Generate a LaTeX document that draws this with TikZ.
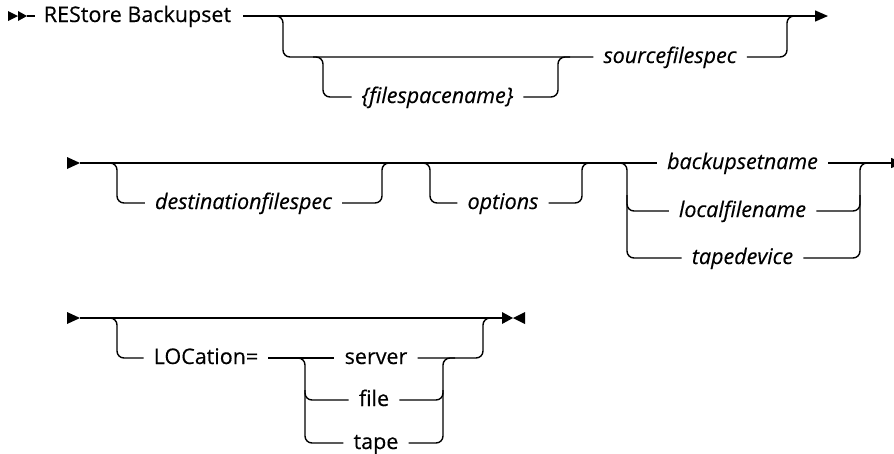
\documentclass[tikz,border=0pt]{standalone}
\usepackage{fontspec}
\setmainfont{Open Sans}[FakeBold=0.35]
\usetikzlibrary{arrows.meta}
\begin{document}
\begin{tikzpicture}[x=1pt,y=-1pt,
  rail/.style={line width=1.4pt, rounded corners=7pt},
  kw/.style={inner xsep=0pt, inner ysep=0pt, text height=15pt, text depth=3pt, font=\fontsize{21.5}{26}\selectfont},
  var/.style={kw, font=\fontsize{21.5}{26}\selectfont\itshape},
  tipmark/.style={fill=black}]
\useasboundingbox (0,0) rectangle (894,453);

% ---------- row 1 ----------
\fill[tipmark] (8,11) -- (18,16) -- (8,21) -- cycle;
\fill[tipmark] (18,11) -- (27,16) -- (18,21) -- cycle;
\coordinate (s1) at (27,16);
\node[kw] (cmd) at (137.5,16) {REStore Backupset};
\draw[line width=1.4pt] (s1) -- ([xshift=-9pt]cmd.west);
\coordinate (a1) at (243,16);
\coordinate (e1) at (828,16);
\draw[rail, -{Triangle[length=13pt,width=11pt]}] (a1) -- (e1);

\node[var] (src) at (670,57) {sourcefilespec};
\node[var] (fsn) at (437.5,97) {\{filespacename\}};
\draw[rail] (268,16) -- (283,16) -- (283,57) -- ([xshift=-10pt]src.west);
\draw[rail] ([xshift=10pt]src.east) -- (787,57) -- (787,16) -- (800,16);
\draw[rail] (313,57) -- (323,57) -- (323,97) -- ([xshift=-10pt]fsn.west);
\draw[rail] ([xshift=10pt]fsn.east) -- (558,97) -- (558,57) -- (570,57);

% ---------- row 2 ----------
\fill[tipmark] (67,157) -- (80,163) -- (67,169) -- cycle;
\coordinate (s2) at (80,163);
\node[var] (bsn) at (742.5,163) {backupsetname};
\node[var] (lfn) at (742.5,211) {localfilename};
\node[var] (tdv) at (742.5,258) {tapedevice};
\node[var] (dst) at (243.5,203) {destinationfilespec};
\node[var] (opt) at (503,203) {options};
\draw[rail] (s2) -- ([xshift=-10pt]bsn.west);
\coordinate (e2) at (903,163);
\draw[rail, -{Triangle[length=12pt,width=10pt]}] ([xshift=10pt]bsn.east) -- (e2);

\draw[rail] (105,163) -- (117,163) -- (117,203) -- ([xshift=-10pt]dst.west);
\draw[rail] ([xshift=10pt]dst.east) -- (382,203) -- (382,163) -- (394,163);
\draw[rail] (420,163) -- (430,163) -- (430,203) -- ([xshift=-10pt]opt.west);
\draw[rail] ([xshift=10pt]opt.east) -- (582,203) -- (582,163) -- (594,163);

\draw[rail] (615,163) -- (627,163) -- (627,258) -- ([xshift=-10pt]tdv.west);
\draw[rail] (627,195) -- (627,211) -- ([xshift=-10pt]lfn.west);
\draw[rail] ([xshift=10pt]tdv.east) -- (860,258) -- (860,163) -- (872,163);
\draw[rail] ([xshift=10pt]lfn.east) -- (860,211) -- (860,195);

% ---------- row 3 ----------
\fill[tipmark] (67,312) -- (80,318) -- (67,324) -- cycle;
\coordinate (s3) at (80,318);
\coordinate (e3) at (502,318);
\draw[rail] (s3) -- (e3);
\fill[tipmark] (502,312) -- (513,318) -- (502,324) -- cycle;
\fill[tipmark] (525,312) -- (513,318) -- (525,324) -- cycle;

\node[kw] (loc) at (206,358) {LOCation=};
\node[kw] (srv) at (376,358) {server};
\node[kw] (fil) at (374,400) {file};
\node[kw] (tap) at (376,443) {tape};
\draw[rail] (105,318) -- (117,318) -- (117,358) -- ([xshift=-10pt]loc.west);
\draw[rail] ([xshift=10pt]loc.east) -- ([xshift=-10pt]srv.west);
\draw[rail] (295,358) -- (305,358) -- (305,443) -- ([xshift=-10pt]tap.west);
\draw[rail] (305,390) -- (305,400) -- ([xshift=-10pt]fil.west);
\draw[rail] ([xshift=10pt]srv.east) -- (483,358) -- (483,318) -- (495,318);
\draw[rail] ([xshift=10pt]tap.east) -- (443,443) -- (443,358) -- (455,358);
\draw[rail] ([xshift=10pt]fil.east) -- (443,400) -- (443,390);
\end{tikzpicture}
\end{document}
